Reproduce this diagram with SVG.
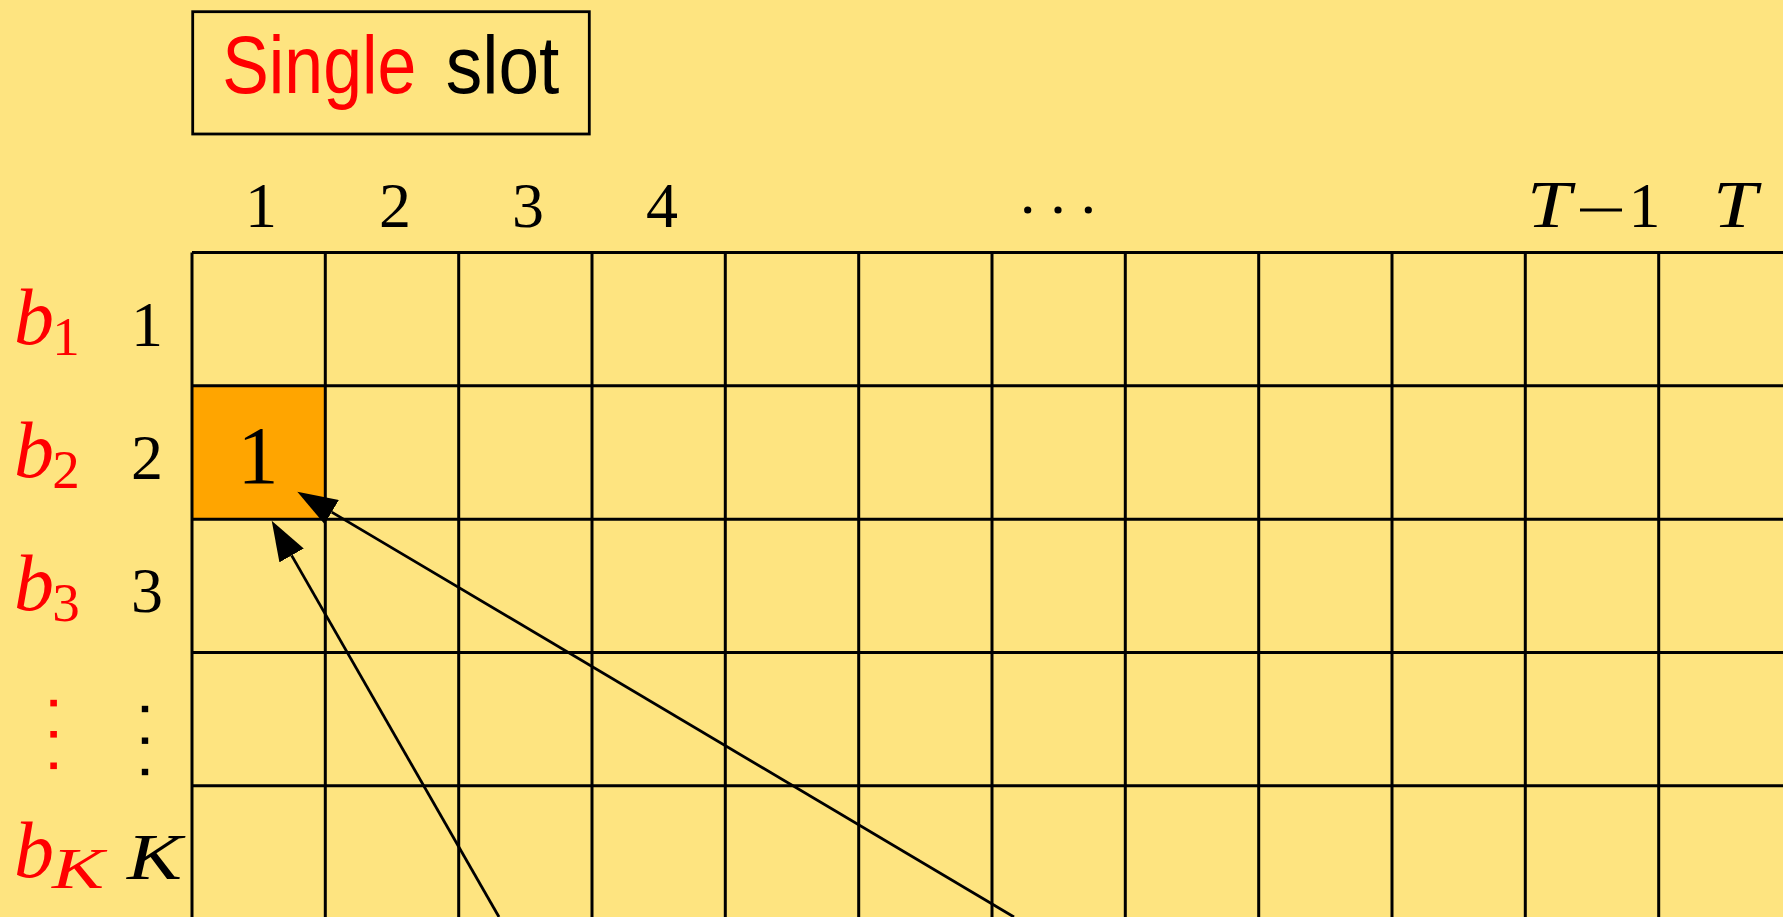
<svg xmlns="http://www.w3.org/2000/svg" width="1783" height="917" viewBox="0 0 1783 917">
<style>
.g{stroke:#000;stroke-width:3;fill:none}
.num{font-family:"Liberation Serif","DejaVu Serif",serif;fill:#000}
.it{font-family:"Liberation Serif","DejaVu Serif",serif;font-style:italic}
.red{fill:#FF0000}
.blk{fill:#000}
.sans{font-family:"Liberation Sans","DejaVu Sans",sans-serif}
.arr{stroke:#000;stroke-width:2.8;fill:none}
</style>
<defs>
<marker id="head" markerUnits="userSpaceOnUse" viewBox="0 -14 40 28" refX="0" refY="0" markerWidth="40" markerHeight="28" orient="auto">
<path d="M0,-14 L40,0 L0,14 z" fill="#000"/>
</marker>
</defs>
<rect x="0" y="0" width="1783" height="917" fill="#FEE480"/>

<g id="title">
<rect x="192.7" y="11.7" width="396.6" height="122.3" fill="none" stroke="#000" stroke-width="2.8"/>
<text class="sans red" x="222.3" y="93.3" font-size="81" textLength="194" lengthAdjust="spacingAndGlyphs">Single</text>
<text class="sans blk" x="445.7" y="93.3" font-size="81" textLength="113.6" lengthAdjust="spacingAndGlyphs">slot</text>
</g>

<g id="highlight-cell">
<rect x="192" y="385.8" width="133.3" height="133.4" fill="#FFA500"/>
<text class="num" x="258" y="483" font-size="82" text-anchor="middle">1</text>
</g>

<g id="grid" class="g">
<path d="M192,252.5H1783M192,385.8H1783M192,519.2H1783M192,652.5H1783M192,785.8H1783"/>
<path d="M192,252.5V917M325.3,252.5V917M458.7,252.5V917M592,252.5V917M725.3,252.5V917M858.7,252.5V917M992,252.5V917M1125.3,252.5V917M1258.7,252.5V917M1392,252.5V917M1525.3,252.5V917M1658.7,252.5V917"/>
</g>

<g id="column-labels">
<text class="num" x="261" y="226.5" font-size="64" text-anchor="middle">1</text>
<text class="num" x="395" y="226.5" font-size="64" text-anchor="middle">2</text>
<text class="num" x="528" y="226.5" font-size="64" text-anchor="middle">3</text>
<text class="num" x="662" y="226.5" font-size="64" text-anchor="middle">4</text>
<circle cx="1027.7" cy="210" r="3.6"/>
<circle cx="1058" cy="210" r="3.6"/>
<circle cx="1088.3" cy="210" r="3.6"/>
<text class="it blk" x="1527" y="226.7" font-size="68" textLength="44" lengthAdjust="spacingAndGlyphs">T</text>
<rect x="1580" y="208.5" width="42" height="3"/>
<text class="num" x="1644.5" y="226.7" font-size="64" text-anchor="middle">1</text>
<text class="it blk" x="1713" y="226.7" font-size="68" textLength="44" lengthAdjust="spacingAndGlyphs">T</text>
</g>

<g id="row-index-labels">
<text class="num" x="147" y="346" font-size="64" text-anchor="middle">1</text>
<text class="num" x="147" y="479" font-size="64" text-anchor="middle">2</text>
<text class="num" x="147" y="612" font-size="64" text-anchor="middle">3</text>
<rect x="141.8" y="705.8" width="6.4" height="6.4"/>
<rect x="141.8" y="737.5" width="6.4" height="6.4"/>
<rect x="141.8" y="768.8" width="6.4" height="6.4"/>
<text class="it blk" x="127" y="879" font-size="66" textLength="55" lengthAdjust="spacingAndGlyphs">K</text>
</g>

<g id="row-bin-labels">
<text class="it red" x="14" y="344" font-size="80">b</text>
<text class="num" x="66" y="355" font-size="55" text-anchor="middle" fill="#FF0000" style="fill:#FF0000">1</text>
<text class="it red" x="14" y="477" font-size="80">b</text>
<text class="num" x="66" y="488" font-size="55" text-anchor="middle" style="fill:#FF0000">2</text>
<text class="it red" x="14" y="610" font-size="80">b</text>
<text class="num" x="66" y="621" font-size="55" text-anchor="middle" style="fill:#FF0000">3</text>
<rect x="50.3" y="699.8" width="6.6" height="6.6" fill="#FF0000"/>
<rect x="50.3" y="731" width="6.6" height="6.6" fill="#FF0000"/>
<rect x="50.3" y="762.5" width="6.6" height="6.6" fill="#FF0000"/>
<text class="it red" x="14" y="877" font-size="80">b</text>
<text class="it red" x="52" y="888" font-size="56" textLength="52" lengthAdjust="spacingAndGlyphs">K</text>
</g>

<g id="connectors">
<line class="arr" x1="499" y1="917" x2="291.6" y2="555.4" marker-end="url(#head)"/>
<line class="arr" x1="1014" y1="917" x2="331.7" y2="512.1" marker-end="url(#head)"/>
</g>
</svg>
